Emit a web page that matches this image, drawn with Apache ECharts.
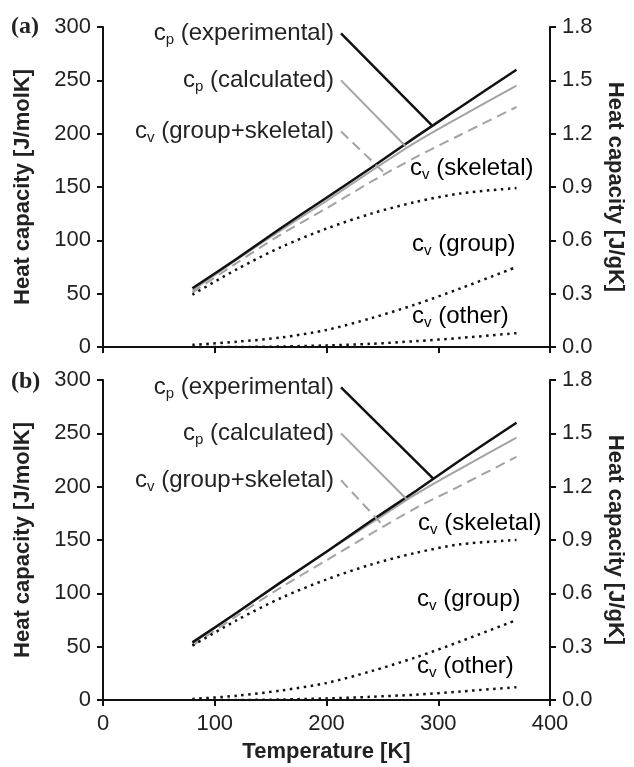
<!DOCTYPE html>
<html>
<head>
<meta charset="utf-8">
<script src="https://cdn.jsdelivr.net/npm/echarts@6/dist/echarts.min.js"></script>
<style>
  html, body { margin: 0; padding: 0; background: #fff; }
  #main { width: 634px; height: 767px; }
</style>
</head>
<body>
<div id="main"></div>
<script>
var temps = [80, 120, 160, 200, 240, 280, 320, 370];

// panel (a)
var expA   = [55, 83, 112, 140, 168, 197, 225, 260];
var calcA  = [53, 82, 110, 137, 165, 192, 216, 245];
var gsA    = [51, 79, 106, 130, 155, 178, 199, 225];
var skelA  = [49, 73, 94, 111, 125, 136, 144, 149];
var groupA = [2, 5, 9, 16, 27, 40, 55, 75];
var otherA = [0, 0, 0.5, 1.5, 3, 5.5, 8.5, 13];

// panel (b)
var expB   = [54, 82, 111, 139, 168, 196, 225, 260];
var calcB  = [53, 82, 111, 139, 166, 193, 217, 246];
var gsB    = [51, 79, 106, 131, 156, 180, 201, 228];
var skelB  = [51, 75, 96, 113, 127, 138, 146, 150];
var groupB = [1, 4, 9, 16, 27, 40, 55, 75];
var otherB = [0, 0, 0.5, 1.5, 3, 5, 8, 12];

// leader lines [T, value] from label to curve
var leadExpA  = [[213, 294], [295, 207]];
var leadCalcA = [[213, 250], [271, 188]];
var leadGsA   = [[213, 202], [252, 163]];
var leadExpB  = [[213, 293], [296, 207]];
var leadCalcB = [[213, 250], [272, 188]];
var leadGsB   = [[213, 206], [252, 162]];

var FONT = 'Liberation Sans, Arial, sans-serif';
var BLACK = '#111';
var GRAY = '#a3a3a3';

var rich = {
  c: { fontSize: 24, fontFamily: FONT, color: '#222' },
  s: { fontSize: 15, fontFamily: FONT, color: '#222', padding: [13, 0, 0, 0] },
  t: { fontSize: 24, fontFamily: FONT, color: '#222' }
};
function lbl(sub, txt) { return '{c|c}{s|' + sub + '}{t| ' + txt + '}'; }

function pairs(xs, ys) {
  return xs.map(function (x, i) { return [x, ys[i]]; });
}

var myChart = echarts.init(document.getElementById('main'));

var nameStyle = { fontSize: 22, fontWeight: 'bold', fontFamily: FONT, color: '#222' };
var tickFont = { fontSize: 22, fontFamily: FONT, color: '#222' };

function xAx(grid, showLabel) {
  return {
    type: 'value', gridIndex: grid, min: 0, max: 400, interval: 100,
    axisLine: { show: true, onZero: false, lineStyle: { color: BLACK, width: 2 } },
    axisTick: { show: true, length: 6, lineStyle: { color: BLACK, width: 2 } },
    axisLabel: Object.assign({ show: showLabel, margin: 13 }, tickFont),
    splitLine: { show: false },
    name: showLabel ? 'Temperature [K]' : '',
    nameLocation: 'middle', nameGap: 41,
    nameTextStyle: nameStyle
  };
}
function yLeft(grid) {
  return {
    type: 'value', gridIndex: grid, position: 'left', min: 0, max: 300, interval: 50,
    axisLine: { show: true, lineStyle: { color: BLACK, width: 2 } },
    axisTick: { show: true, length: 6, lineStyle: { color: BLACK, width: 2 } },
    axisLabel: Object.assign({ margin: 12 }, tickFont),
    splitLine: { show: false },
    name: 'Heat capacity [J/molK]', nameLocation: 'middle', nameGap: 69,
    nameTextStyle: nameStyle
  };
}
function yRight(grid) {
  return {
    type: 'value', gridIndex: grid, position: 'right', min: 0, max: 1.8, interval: 0.3,
    axisLine: { show: true, lineStyle: { color: BLACK, width: 2 } },
    axisTick: { show: true, length: 6, lineStyle: { color: BLACK, width: 2 } },
    axisLabel: Object.assign({ margin: 12,
      formatter: function (v) { return v.toFixed(1); } }, tickFont),
    splitLine: { show: false },
    name: 'Heat capacity [J/gK]', nameLocation: 'middle', nameGap: 54, nameRotate: -90,
    nameTextStyle: nameStyle
  };
}

function curve(xi, yi, data, color, width, type) {
  return {
    type: 'line', xAxisIndex: xi, yAxisIndex: yi, data: data,
    symbol: 'none', smooth: 0.3, silent: true,
    lineStyle: { color: color, width: width, type: type }
  };
}
function leader(xi, yi, pts, color, width, type, text) {
  return {
    type: 'line', xAxisIndex: xi, yAxisIndex: yi, symbol: 'circle', symbolSize: 0,
    silent: true,
    lineStyle: { color: color, width: width, type: type },
    data: [
      { value: pts[0], label: { show: true, position: 'left', distance: 7, formatter: text, rich: rich } },
      pts[1]
    ]
  };
}

var dots = [2.5, 4.5];
var dash = [10, 6];

function panel(xi, yi, d) {
  return [
    curve(xi, yi, pairs(temps, d.gs), GRAY, 2, dash),
    curve(xi, yi, pairs(temps, d.calc), GRAY, 2, 'solid'),
    curve(xi, yi, pairs(temps, d.exp), BLACK, 2.5, 'solid'),
    curve(xi, yi, pairs(temps, d.skel), BLACK, 2.5, dots),
    curve(xi, yi, pairs(temps, d.group), BLACK, 2.5, dots),
    curve(xi, yi, pairs(temps, d.other), BLACK, 2.5, dots),
    leader(xi, yi, d.lExp, BLACK, 2.5, 'solid', lbl('p', '(experimental)')),
    leader(xi, yi, d.lCalc, GRAY, 2, 'solid', lbl('p', '(calculated)')),
    leader(xi, yi, d.lGs, GRAY, 2, dash, lbl('v', '(group+skeletal)'))
  ];
}

function txt(left, top, sub, t) {
  return { type: 'text', left: left, top: top, silent: true,
    style: { text: lbl(sub, t), rich: rich } };
}

var option = {
  animation: false,
  grid: [
    { left: 103, right: 83, top: 27, height: 320 },
    { left: 103, right: 83, top: 380, height: 320 }
  ],
  xAxis: [xAx(0, false), xAx(1, true)],
  yAxis: [yLeft(0), yRight(0), yLeft(1), yRight(1)],
  series: [].concat(
    panel(0, 0, { gs: gsA, calc: calcA, exp: expA, skel: skelA, group: groupA, other: otherA,
      lExp: leadExpA, lCalc: leadCalcA, lGs: leadGsA }),
    panel(1, 2, { gs: gsB, calc: calcB, exp: expB, skel: skelB, group: groupB, other: otherB,
      lExp: leadExpB, lCalc: leadCalcB, lGs: leadGsB })
  ),
  graphic: [
    { type: 'text', left: 11, top: 15, style: { text: '(a)', font: 'bold 24px "Liberation Serif", serif', fill: '#222' } },
    { type: 'text', left: 11, top: 370, style: { text: '(b)', font: 'bold 24px "Liberation Serif", serif', fill: '#222' } },
    txt(410, 156, 'v', '(skeletal)'),
    txt(412, 232, 'v', '(group)'),
    txt(412, 304, 'v', '(other)'),
    txt(418, 511, 'v', '(skeletal)'),
    txt(417, 587, 'v', '(group)'),
    txt(417, 654, 'v', '(other)')
  ]
};
myChart.setOption(option);
</script>
</body>
</html>
